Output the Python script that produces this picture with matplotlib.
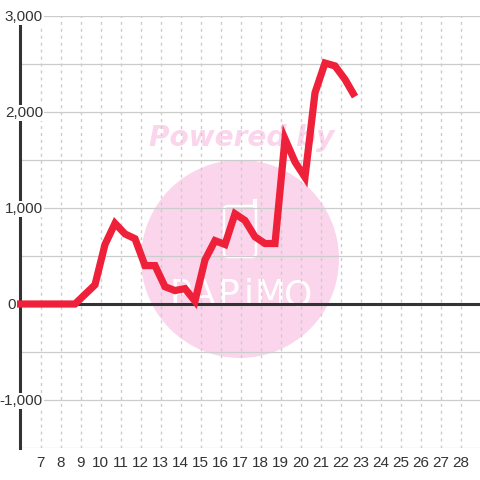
#!/usr/bin/env python
"""
Line chart with watermark
"""
import matplotlib
matplotlib.use('Agg')
import matplotlib.pyplot as plt
from matplotlib.patches import Circle, FancyBboxPatch
from matplotlib.transforms import Affine2D

plt.rcParams['font.family'] = ['Liberation Sans', 'DejaVu Sans']

# Values
hours = [5.85, 8.75, 9.75, 10.25, 10.75, 11.25, 11.75, 12.25, 12.75, 13.25,
         13.75, 14.25, 14.75, 15.25, 15.75, 16.25, 16.75, 17.25, 17.75, 18.25,
         18.75, 19.25, 19.75, 20.25, 20.75, 21.25, 21.75, 22.25, 22.75]
values = [0, 0, 200, 620, 840, 730, 680, 400, 400, 180,
          140, 160, 30, 460, 660, 620, 940, 870, 700, 630,
          630, 1720, 1480, 1320, 2200, 2510, 2480, 2340, 2160]
x_ticks = list(range(7, 29))
y_labels = [3000, 2000, 1000, 0, -1000]
y_grid = [-1500, -1000, -500, 500, 1000, 1500, 2000, 2500, 3000]
logo_letters = ['P', 'A', 'P', 'i', 'M', 'O']
logo_x = [180, 203, 228, 249, 270, 298]

pink = '#fbd5ec'
dark = '#333333'
grid = '#cccccc'

fig = plt.figure(figsize=(4.8, 4.8), dpi=100)
ax = fig.add_axes([20 / 480, 32 / 480, 460 / 480, 432 / 480])
ax.set_xlim(6, 29)
ax.set_ylim(-1500, 3000)
for s in ax.spines.values():
    s.set_visible(False)
ax.set_xticks([])
ax.set_yticks([])

# pixel coordinates, origin at top left as in the reference
pix = Affine2D().scale(1, -1).translate(0, 480)

# watermark, below the grid
ax.add_patch(Circle((240, 259), 99, color=pink, lw=0, transform=pix, zorder=1))
ax.text(242, 146, 'Powered by', transform=pix, color=pink, fontsize=20.2,
        family='DejaVu Sans', weight='bold', style='italic',
        ha='center', va='baseline', zorder=1)
ax.add_patch(FancyBboxPatch((224, 206), 32, 51, boxstyle='round,pad=0,rounding_size=4',
                            fc='none', ec='white', lw=1.8, transform=pix, zorder=1))
ax.plot([255, 255], [201, 207], color='white', lw=3, transform=pix, zorder=1)
for c, lx in zip(logo_letters, logo_x):
    ax.text(lx, 305, c, transform=pix, color='white', fontsize=26,
            family='Liberation Sans Narrow', ha='center', va='baseline', zorder=1)

for v in y_grid:
    ax.axhline(v, color=grid, lw=0.9, zorder=2)
for x in x_ticks:
    ax.axvline(x + 0.03, color=grid, lw=1.0, dashes=(2.2, 2.8), zorder=2)
    ax.text(x + 0.03, -1660, str(x), color=dark, fontsize=11,
            ha='center', va='center', zorder=6)

ax.axhline(0, color=dark, lw=2.2, zorder=3)
ax.axvline(6.02, color=dark, lw=2.2, zorder=3, clip_on=False)

ax.plot(hours, values, color='#ef2039', lw=5.2, solid_capstyle='butt',
        solid_joinstyle='miter', clip_on=False, zorder=4)

for v in y_labels:
    ax.text(43 if v else 16, 480 - (304 - v * 0.096) - 1, f'{v:,}', transform=Affine2D(),
            color=dark, fontsize=11, ha='right', va='center',
            zorder=5, clip_on=False,
            bbox=dict(fc='white', ec='none', pad=0.6))

fig.savefig('out.png', dpi=100)
